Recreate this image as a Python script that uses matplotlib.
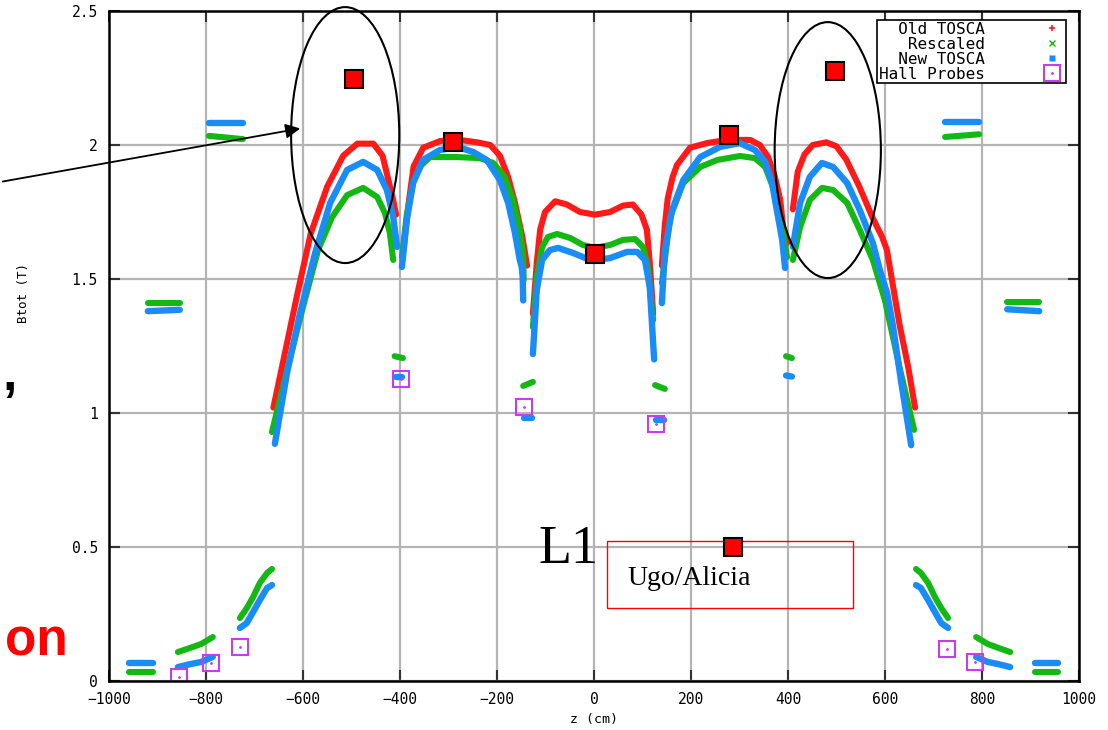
import matplotlib.pyplot as plt
from matplotlib.lines import Line2D
from matplotlib.patches import Ellipse, Rectangle

# field map along z (z in cm, Btot in T)
# each entry is one continuous segment of points
old_z = [
    [-661, -636, -611, -584, -550, -517, -488, -455, -436, -424, -413, -408],
    [-395, -382, -372, -352, -317, -282, -241, -214, -194, -177, -163, -148, -138],
    [-126, -118, -111, -101, -80, -56, -29, 2, 33, 60, 80, 98, 109, 115, 122],
    [140, 146, 152, 162, 171, 198, 233, 274, 322, 342, 359, 373, 384, 390, 398],
    [410, 420, 434, 451, 479, 500, 520, 547, 574, 594, 604, 630, 648, 662],
]
old_b = [
    [1.02, 1.235, 1.45, 1.67, 1.845, 1.96, 2.005, 2.005, 1.96, 1.87, 1.785, 1.74],
    [1.58, 1.785, 1.92, 1.99, 2.015, 2.02, 2.01, 2.0, 1.96, 1.88, 1.785, 1.66, 1.55],
    [1.37, 1.56, 1.684, 1.75, 1.79, 1.778, 1.75, 1.74, 1.75, 1.774, 1.778, 1.74, 1.684, 1.56, 1.37],
    [1.55, 1.70, 1.80, 1.88, 1.925, 1.99, 2.007, 2.019, 2.019, 2.0, 1.955, 1.881, 1.795, 1.694, 1.634],
    [1.76, 1.90, 1.965, 2.0, 2.01, 1.995, 1.946, 1.845, 1.73, 1.657, 1.608, 1.33, 1.17, 1.02],
]

resc_z = [
    [-959, -909], [-858, -835, -810, -786], [-730, -716, -703, -689, -674, -664],
    [-920, -854], [-794, -724], [-411, -394], [-146, -126],
    [-664, -633, -600, -569, -540, -509, -476, -447, -431, -421, -414],
    [-396, -386, -373, -356, -338, -282, -235, -208, -184, -167, -153, -146, -145],
    [-126, -118, -107, -95, -76, -49, -23, 2, 33, 60, 85, 101, 111, 122],
    [140, 157, 184, 219, 254, 301, 332, 353, 369, 379, 390, 398],
    [410, 425, 445, 470, 493, 522, 548, 575, 600, 630, 660],
    [126, 146], [396, 408], [664, 674, 689, 703, 716, 730], [724, 794],
    [788, 812, 836, 858], [852, 918], [909, 957],
]
resc_b = [
    [0.034, 0.034], [0.108, 0.122, 0.138, 0.164], [0.235, 0.272, 0.313, 0.366, 0.403, 0.418],
    [1.41, 1.41], [2.034, 2.022], [1.212, 1.205], [1.101, 1.116],
    [0.929, 1.16, 1.396, 1.608, 1.731, 1.813, 1.84, 1.806, 1.746, 1.672, 1.571],
    [1.582, 1.74, 1.86, 1.925, 1.955, 1.955, 1.951, 1.933, 1.881, 1.795, 1.683, 1.582, 1.496],
    [1.321, 1.507, 1.619, 1.657, 1.668, 1.653, 1.627, 1.616, 1.627, 1.646, 1.649, 1.619, 1.545, 1.347],
    [1.485, 1.731, 1.858, 1.918, 1.944, 1.959, 1.951, 1.918, 1.843, 1.769, 1.672, 1.582],
    [1.571, 1.694, 1.795, 1.84, 1.832, 1.784, 1.683, 1.571, 1.42, 1.17, 0.937],
    [1.104, 1.09], [1.212, 1.205], [0.418, 0.403, 0.366, 0.313, 0.272, 0.235], [2.03, 2.04],
    [0.164, 0.138, 0.122, 0.108], [1.414, 1.414], [0.034, 0.034],
]

new_z = [
    [-959, -909], [-858, -835, -810, -786], [-730, -716, -703, -689, -674, -664],
    [-920, -854], [-794, -724], [-409, -396], [-144, -128],
    [-658, -633, -606, -575, -544, -509, -476, -447, -427, -414, -406],
    [-396, -386, -373, -353, -318, -282, -249, -221, -194, -177, -163, -153, -149, -147, -146],
    [-126, -118, -107, -91, -74, -43, -8, 2, 33, 68, 89, 105, 115, 124],
    [140, 146, 161, 184, 219, 260, 301, 332, 353, 367, 377, 388, 394],
    [410, 425, 445, 470, 493, 522, 548, 575, 590, 604, 616, 633, 654],
    [128, 144], [396, 408], [664, 674, 689, 703, 716, 730], [724, 794],
    [788, 812, 836, 858], [852, 918], [909, 957],
]
new_b = [
    [0.067, 0.067], [0.052, 0.062, 0.071, 0.09], [0.198, 0.216, 0.257, 0.302, 0.347, 0.358],
    [1.38, 1.385], [2.082, 2.082], [1.134, 1.134], [0.981, 0.981],
    [0.885, 1.149, 1.373, 1.597, 1.784, 1.907, 1.937, 1.907, 1.832, 1.731, 1.62],
    [1.545, 1.72, 1.858, 1.944, 1.981, 1.993, 1.974, 1.944, 1.869, 1.784, 1.672, 1.571, 1.545, 1.507, 1.42],
    [1.22, 1.459, 1.571, 1.608, 1.616, 1.597, 1.571, 1.571, 1.578, 1.601, 1.601, 1.571, 1.47, 1.20],
    [1.41, 1.608, 1.757, 1.869, 1.955, 1.993, 2.007, 1.981, 1.937, 1.858, 1.757, 1.646, 1.541],
    [1.62, 1.784, 1.881, 1.933, 1.918, 1.858, 1.757, 1.634, 1.53, 1.45, 1.33, 1.12, 0.88],
    [0.974, 0.974], [1.14, 1.136], [0.358, 0.347, 0.302, 0.257, 0.216, 0.198], [2.086, 2.086],
    [0.09, 0.071, 0.062, 0.052], [1.387, 1.38], [0.067, 0.067],
]

hall_z = [-856, -790, -730, -398, -144, 128, 728, 786]
hall_b = [0.015, 0.067, 0.127, 1.127, 1.022, 0.959, 0.119, 0.071]

# red squares pasted on the slide
meas_z = [-495, -291, 2, 278, 497, 287]
meas_b = [2.246, 2.011, 1.593, 2.037, 2.276, 0.50]

RED = '#ff1a1a'
GREEN = '#14b814'
BLUE = '#1a8cf5'
MAGENTA = '#c83cf0'
MONO = 'DejaVu Sans Mono'

W, H = 1108, 730
fig = plt.figure(figsize=(W / 100, H / 100), dpi=100)
ax = fig.add_axes([109 / W, 49 / H, 970 / W, 670 / H])

for z, b in zip(old_z, old_b):
    ax.plot(z, b, color=RED, lw=4.4, solid_capstyle='round', solid_joinstyle='round', zorder=3)
for z, b in zip(resc_z, resc_b):
    ax.plot(z, b, color=GREEN, lw=4.4, solid_capstyle='round', solid_joinstyle='round', zorder=4)
for z, b in zip(new_z, new_b):
    ax.plot(z, b, color=BLUE, lw=4.6, solid_capstyle='round', solid_joinstyle='round', zorder=5)

ax.plot(hall_z, hall_b, ls='none', marker='s', ms=11, mfc='none', mec=MAGENTA, mew=1.5, zorder=6)
ax.plot(hall_z, hall_b, ls='none', marker='.', ms=2, color=MAGENTA, zorder=6)

ax.set_xlim(-1000, 1000)
ax.set_ylim(0, 2.5)
ax.set_xticks(range(-1000, 1001, 200))
ax.set_yticks([0, 0.5, 1, 1.5, 2, 2.5])
ax.set_yticklabels(['0', '0.5', '1', '1.5', '2', '2.5'])
ax.grid(True, color='#b4b4b4', lw=1.6, zorder=1)
ax.set_axisbelow(True)
ax.tick_params(direction='in', length=8, width=1.5, color='#333333', top=True, right=True,
               labelsize=10.5, pad=8)
for lab in ax.get_xticklabels() + ax.get_yticklabels():
    lab.set_family(MONO)
for sp in ax.spines.values():
    sp.set_linewidth(1.8)
    sp.set_zorder(7)

ax.set_xlabel('z (cm)', family=MONO, fontsize=9.5, labelpad=4)
ax.set_ylabel('Btot (T)', family=MONO, fontsize=9)
ax.yaxis.set_label_coords((30 - 109) / 970, (681 - 293) / 670)

handles = [
    Line2D([], [], ls='none', marker='+', color=RED, ms=5, mew=1.2),
    Line2D([], [], ls='none', marker='x', color=GREEN, ms=4, mew=1),
    Line2D([], [], ls='none', marker='s', color=BLUE, ms=4, mec='none'),
    (Line2D([], [], ls='none', marker='s', mfc='none', mec=MAGENTA, ms=12, mew=1.5),
     Line2D([], [], ls='none', marker='.', color=MAGENTA, ms=2)),
]
labels = ['  Old TOSCA', '   Rescaled', '  New TOSCA', 'Hall Probes']
leg = ax.legend(handles, labels, loc='upper right', bbox_to_anchor=(1066 / W, 1 - 20 / H),
                bbox_transform=fig.transFigure, markerfirst=False, fancybox=False,
                framealpha=1, edgecolor='black', borderpad=0.1, labelspacing=0.0,
                handlelength=1.6, handletextpad=3.4, borderaxespad=0,
                prop={'family': MONO, 'size': 11.5})
leg.get_frame().set_linewidth(1.2)
leg.set_zorder(8)

# slide annotations on top of the plot
ax.plot(meas_z, meas_b, ls='none', marker='s', ms=13, mfc='#ff0000', mec='black', mew=1.5,
        clip_on=False, zorder=10)
ax.add_patch(Ellipse((-513, 2.037), 223, 0.955, fill=False, ec='black', lw=1.5,
                     clip_on=False, zorder=9))
ax.add_patch(Ellipse((482, 1.981), 219, 0.955, fill=False, ec='black', lw=1.5,
                     clip_on=False, zorder=9))
ax.annotate('', xy=(303 / W, 1 - 128 / H), xycoords='figure fraction',
            xytext=(0, 1 - 182 / H), textcoords='figure fraction',
            arrowprops=dict(arrowstyle='-|>', color='black', lw=1.3, mutation_scale=22),
            annotation_clip=False, zorder=9)
ax.add_patch(Rectangle((607 / W, 1 - 608 / H), 246 / W, 67 / H, transform=fig.transFigure,
                       fill=False, ec='red', lw=1, clip_on=False, zorder=8))
fig.text(538 / W, 1 - 563 / H, 'L1', family='Liberation Serif', fontsize=39, va='baseline')
fig.text(627 / W, 1 - 585 / H, 'Ugo/Alicia', family='Liberation Serif', fontsize=20,
         va='baseline')
fig.text(5 / W, 1 - 655 / H, 'on', family='Liberation Sans', weight='bold', fontsize=37,
         color='red', va='baseline')
fig.text(2 / W, 1 - 390 / H, ',', family='Liberation Sans', weight='bold', fontsize=37,
         va='baseline')

fig.savefig('out.png', dpi=100)
